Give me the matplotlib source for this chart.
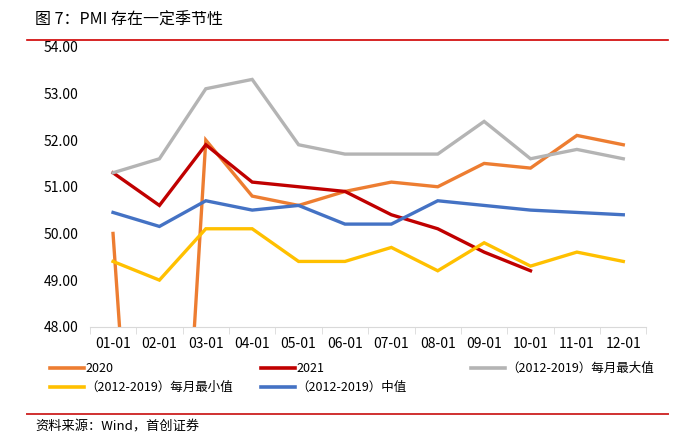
import matplotlib
matplotlib.use("Agg")
from matplotlib import pyplot as plt
from matplotlib.lines import Line2D
import numpy as np

plt.rcParams['font.family'] = ['Noto Sans CJK SC', 'DejaVu Sans']

months = ['01-01', '02-01', '03-01', '04-01', '05-01', '06-01',
          '07-01', '08-01', '09-01', '10-01', '11-01', '12-01']
pmi2020 = [50.0, 35.7, 52.0, 50.8, 50.6, 50.9, 51.1, 51.0, 51.5, 51.4, 52.1, 51.9]
pmi2021 = [51.3, 50.6, 51.9, 51.1, 51.0, 50.9, 50.4, 50.1, 49.6, 49.2]
maxVal = [51.3, 51.6, 53.1, 53.3, 51.9, 51.7, 51.7, 51.7, 52.4, 51.6, 51.8, 51.6]
minVal = [49.4, 49.0, 50.1, 50.1, 49.4, 49.4, 49.7, 49.2, 49.8, 49.3, 49.6, 49.4]
medVal = [50.45, 50.15, 50.7, 50.5, 50.6, 50.2, 50.2, 50.7, 50.6, 50.5, 50.45, 50.4]

names = ['2020', '2021', '（2012-2019）每月最大值', '（2012-2019）每月最小值', '（2012-2019）中值']
colors = ['#ED7D31', '#C00000', '#B4B4B4', '#FFC000', '#4472C4']

fig = plt.figure(figsize=(6.98, 4.41), dpi=100)
ax = fig.add_axes([0.1287, 0.259, 0.7975, 0.635])

x = np.arange(len(months))
series = [pmi2020, pmi2021, maxVal, minVal, medVal]
for s, c in zip(series, colors):
    ax.plot(x[:len(s)], s, color=c, lw=2.4, solid_joinstyle='miter')

ax.set_xlim(-0.5, 11.5)
ax.set_ylim(48, 54)
ax.set_yticks(np.arange(48, 54.01, 1))
ax.set_yticklabels(['%.2f' % v for v in np.arange(48, 54.01, 1)], fontsize=10)
ax.set_xticks(x)
ax.set_xticklabels(months, fontsize=10)
ax.set_xticks(np.arange(-0.5, 11.6, 1), minor=True)
ax.tick_params(axis='x', which='major', length=0, pad=7)
ax.tick_params(axis='x', which='minor', length=5, color='#D9D9D9')
ax.tick_params(axis='y', length=0, pad=8)
for sp in ['top', 'right', 'left']:
    ax.spines[sp].set_visible(False)
ax.spines['bottom'].set_color('#D9D9D9')

# title and red rules
fig.text(35 / 698, 1 - 20 / 441, '图 7：PMI 存在一定季节性', fontsize=11.5, va='center')
fig.add_artist(Line2D([27 / 698, 668 / 698], [1 - 40 / 441] * 2, color='#D00000', lw=1.2))
fig.add_artist(Line2D([27 / 698, 668 / 698], [1 - 414 / 441] * 2, color='#D03030', lw=1.4))
fig.text(35 / 698, 1 - 427 / 441, '资料来源：Wind，首创证券', fontsize=9.5, va='center', style='italic')

# legend
legPos = [(50, 368), (261, 368), (471, 368), (50, 387), (261, 387)]
for (lx, ly), name, c in zip(legPos, names, colors):
    fig.add_artist(Line2D([lx / 698, (lx + 34) / 698], [1 - ly / 441] * 2, color=c, lw=2.6))
    fig.text((lx + 35) / 698, 1 - ly / 441, name, fontsize=9, va='center')

fig.savefig('out.png', dpi=100)
